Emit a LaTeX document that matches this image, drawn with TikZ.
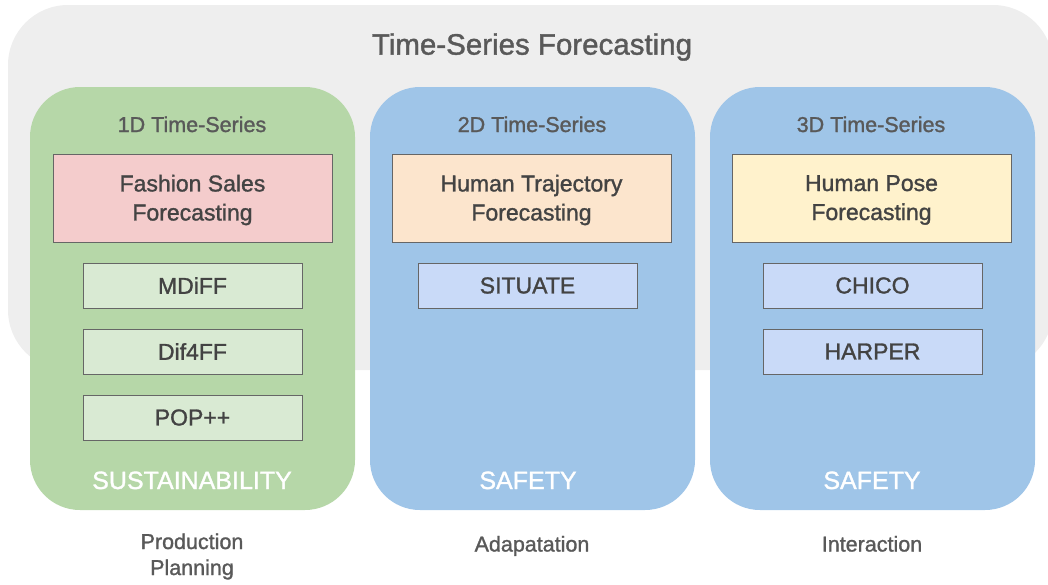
\documentclass[tikz,border=0pt]{standalone}
\usepackage{fontspec}
\setmainfont{Liberation Sans}[FakeBold=1.3]
\usetikzlibrary{positioning}

\definecolor{bggray}{HTML}{EEEEEE}
\definecolor{panelgreen}{HTML}{B6D7A8}
\definecolor{panelblue}{HTML}{9FC5E8}
\definecolor{taskpink}{HTML}{F4CCCC}
\definecolor{taskorange}{HTML}{FCE5CD}
\definecolor{taskyellow}{HTML}{FFF2CC}
\definecolor{datagreen}{HTML}{D9EAD3}
\definecolor{datablue}{HTML}{C9DAF8}
\definecolor{titlegray}{HTML}{595959}
\definecolor{boxtext}{HTML}{434343}
\definecolor{boxline}{HTML}{666666}

\begin{document}
\begin{tikzpicture}[x=1pt, y=-1pt,
  panel/.style={rounded corners=50pt, minimum width=325pt, minimum height=423pt, inner sep=0pt},
  paneltitle/.style={text=titlegray, anchor=base, font=\fontsize{21.5}{25}\selectfont},
  taskbox/.style={draw=boxline, line width=0.8pt, minimum width=279pt, minimum height=88pt},
  tasktext/.style={align=center, text=boxtext, font=\fontsize{23}{29}\selectfont},
  databox/.style={draw=boxline, line width=0.8pt, minimum width=219pt, minimum height=45pt,
    text=boxtext, font=\fontsize{23}{26}\selectfont},
  impact/.style={text=white, anchor=base, font=\fontsize{25}{30}\selectfont},
  usecase/.style={text=titlegray, align=center, anchor=base, font=\fontsize{21.5}{26}\selectfont}]

  \useasboundingbox (0,0) rectangle (1048,584);

  % Background
  \node[fill=bggray, rounded corners=60pt, minimum width=1045pt, minimum height=365pt, inner sep=0pt]
    (bg) at (530.5,187.5) {};
  \node[text=titlegray, font=\fontsize{29.5}{33}\selectfont] (title) at (532,47) {Time-Series Forecasting};

  % Panels
  \node[panel, fill=panelgreen] (p1) at (192.5,298.5) {};
  \node[panel, fill=panelblue]  (p2) at (532.5,298.5) {};
  \node[panel, fill=panelblue]  (p3) at (872.5,298.5) {};

  \node[paneltitle] (d1) at (192,132) {1D Time-Series};
  \node[paneltitle] (d2) at (532,132) {2D Time-Series};
  \node[paneltitle] (d3) at (871,132) {3D Time-Series};

  % Tasks
  \node[taskbox, fill=taskpink]   (t1) at (192.5,198) {};
  \node[taskbox, fill=taskorange] (t2) at (531.5,198) {};
  \node[taskbox, fill=taskyellow] (t3) at (871.5,198) {};
  \node[tasktext] (t1txt) at ([yshift=-2pt]t1.center) {Fashion Sales\\Forecasting};
  \node[tasktext] (t2txt) at ([yshift=-2pt]t2.center) {Human Trajectory\\Forecasting};
  \node[tasktext] (t3txt) at ([yshift=-2pt]t3.center) {Human Pose\\Forecasting};

  % Datasets / methods
  \node[databox, fill=datagreen] (mdiff)  at (192.5,285.5) {MDiFF};
  \node[databox, fill=datagreen] (dif4ff) at (192.5,351.5) {Dif4FF};
  \node[databox, fill=datagreen] (pop)    at (192.5,417.5) {POP++};
  \node[databox, fill=datablue]  (situate) at (527.5,285.5) {SITUATE};
  \node[databox, fill=datablue]  (chico)  at (872.5,285.5) {CHICO};
  \node[databox, fill=datablue]  (harper) at (872.5,351.5) {HARPER};

  % Impact
  \node[impact] (i1) at (192,489) {SUSTAINABILITY};
  \node[impact] (i2) at (528,489) {SAFETY};
  \node[impact] (i3) at (872,489) {SAFETY};

  % Use cases
  \node[usecase] (u1) at (192,575) {Production\\Planning};
  \node[usecase] (u2) at (532,551.5) {Adapatation};
  \node[usecase] (u3) at (872,551.5) {Interaction};

\end{tikzpicture}
\end{document}
